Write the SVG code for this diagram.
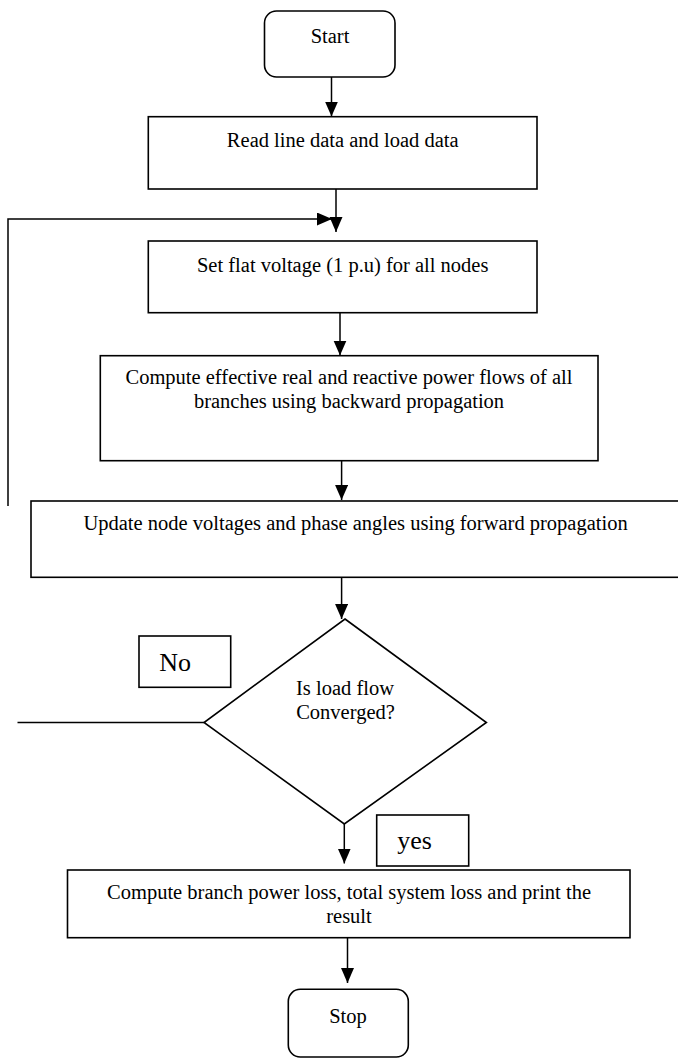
<svg xmlns="http://www.w3.org/2000/svg" width="678" height="1059" viewBox="0 0 678 1059">
<style>
.box{fill:#fff;stroke:#000;stroke-width:1.6}
.ln{fill:none;stroke:#000;stroke-width:1.5}
.t{font-family:"Liberation Serif","Times New Roman",serif;font-size:20.5px;fill:#000;text-anchor:middle}
.lbl{font-family:"Liberation Serif","Times New Roman",serif;font-size:26px;fill:#000}
</style>
<defs>
<marker id="ah" markerUnits="userSpaceOnUse" markerWidth="16" markerHeight="14" refX="15" refY="6.5" orient="auto">
<path d="M0,0 L15,6.5 L0,13 z" fill="#000"/>
</marker>
</defs>
<g id="connectors">
<line class="ln" x1="331.5" y1="77" x2="331.5" y2="116.5" marker-end="url(#ah)"/>
<line class="ln" x1="336" y1="189" x2="336" y2="232" marker-end="url(#ah)"/>
<polyline class="ln" points="8,506 8,219 332,219" marker-end="url(#ah)"/>
<line class="ln" x1="340" y1="310" x2="340" y2="355.5" marker-end="url(#ah)"/>
<line class="ln" x1="341.6" y1="461" x2="341.6" y2="500" marker-end="url(#ah)"/>
<line class="ln" x1="341.6" y1="577" x2="341.6" y2="619" marker-end="url(#ah)"/>
<line class="ln" x1="204" y1="722.5" x2="17.5" y2="722.5"/>
<line class="ln" x1="344.3" y1="824" x2="344.3" y2="863.5" marker-end="url(#ah)"/>
<line class="ln" x1="347.5" y1="938" x2="347.5" y2="983" marker-end="url(#ah)"/>
</g>
<g id="start">
<rect class="box" x="264.5" y="11" width="130.5" height="66" rx="12" ry="12"/>
<text class="t" x="330" y="42.7">Start</text>
</g>
<g id="read">
<rect class="box" x="148.3" y="116.7" width="388.7" height="72.3"/>
<text class="t" x="342.7" y="146.7">Read line data and load data</text>
</g>
<g id="setflat">
<rect class="box" x="148.3" y="241" width="388.7" height="71.7"/>
<text class="t" x="342.7" y="272">Set flat voltage (1 p.u) for all nodes</text>
</g>
<g id="compute">
<rect class="box" x="100.3" y="355.7" width="497.7" height="105"/>
<text class="t" x="349" y="384.3">Compute effective real and reactive power flows of all</text>
<text class="t" x="349" y="408.3">branches using backward propagation</text>
</g>
<g id="update">
<rect class="box" x="31" y="501" width="660" height="76.3"/>
<text class="t" x="355.6" y="530">Update node voltages and phase angles using forward propagation</text>
</g>
<g id="decision">
<polygon class="box" points="345,619 486.4,722.5 344.3,824 204,722.5"/>
<text class="t" x="345" y="695">Is load flow</text>
<text class="t" x="345.5" y="719">Converged?</text>
</g>
<g id="no-label">
<rect class="box" x="139" y="636" width="91.7" height="51.3"/>
<text class="lbl" x="159.3" y="670.7">No</text>
</g>
<g id="yes-label">
<rect class="box" x="376.7" y="815" width="92" height="51"/>
<text class="lbl" x="397.3" y="849">yes</text>
</g>
<g id="result">
<rect class="box" x="67.5" y="870" width="562.5" height="67.7"/>
<text class="t" x="349" y="899.3">Compute branch power loss, total system loss and print the</text>
<text class="t" x="349" y="922.7">result</text>
</g>
<g id="stop">
<rect class="box" x="288.3" y="989.3" width="120" height="67.7" rx="12" ry="12"/>
<text class="t" x="348" y="1022.7">Stop</text>
</g>
</svg>
